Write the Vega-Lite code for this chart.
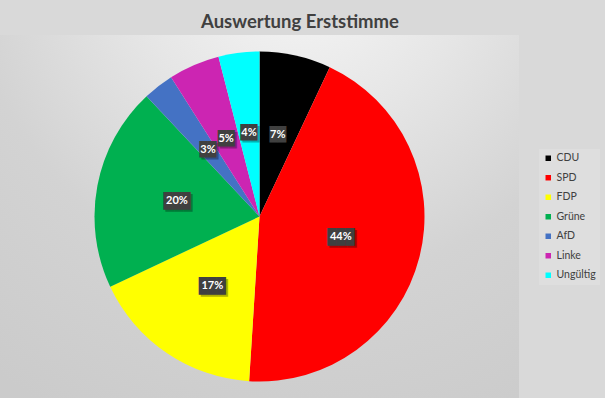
{
  "$schema": "https://vega.github.io/schema/vega-lite/v6.json",
  "width": 605,
  "height": 398,
  "autosize": {"type": "fit", "contains": "padding"},
  "padding": {"top": 12, "left": 0, "right": 5, "bottom": 0},
  "background": "#d9d9d9",
  "title": {
    "text": "Auswertung Erststimme",
    "font": "Lato",
    "fontSize": 18.5,
    "fontWeight": "bold",
    "color": "#404040",
    "offset": 4,
    "anchor": "middle",
    "frame": "bounds"
  },
  "view": {
    "stroke": null,
    "fill": {
      "gradient": "radial",
      "x1": 0.577, "y1": -0.011, "r1": 0,
      "x2": 0.577, "y2": -0.011, "r2": 1,
      "stops": [
        {"offset": 0, "color": "#f8f8f8"},
        {"offset": 0.33, "color": "#e6e6e6"},
        {"offset": 0.64, "color": "#d3d3d3"},
        {"offset": 1, "color": "#cbcbcb"}
      ]
    }
  },
  "data": {
    "values": [
      {"party": "CDU", "share": 0.07},
      {"party": "SPD", "share": 0.44},
      {"party": "FDP", "share": 0.17},
      {"party": "Grüne", "share": 0.20},
      {"party": "AfD", "share": 0.03},
      {"party": "Linke", "share": 0.05},
      {"party": "Ungültig", "share": 0.04}
    ]
  },
  "transform": [{"window": [{"op": "row_number", "as": "idx"}]}],
  "encoding": {
    "theta": {"field": "share", "type": "quantitative", "stack": true},
    "order": {"field": "idx", "type": "quantitative"}
  },
  "layer": [
    {
      "mark": {"type": "arc", "outerRadius": 165},
      "encoding": {
        "color": {
          "field": "party",
          "type": "nominal",
          "sort": null,
          "scale": {
            "domain": ["CDU", "SPD", "FDP", "Grüne", "AfD", "Linke", "Ungültig"],
            "range": ["#000000", "#ff0000", "#ffff00", "#00b050", "#4472c4", "#cc25b2", "#00ffff"]
          },
          "legend": {
            "title": null,
            "orient": "right",
            "offset": 20,
            "padding": 4,
            "fillColor": "#dedede",
            "symbolType": "square",
            "symbolSize": 30,
            "symbolStrokeWidth": 0,
            "labelFont": "Lato",
            "labelFontSize": 10.5,
            "labelColor": "#404040",
            "labelOffset": 3,
            "rowPadding": 8.5
          }
        }
      }
    },
    {
      "mark": {"type": "text", "radius": 84, "font": "DejaVu Sans Mono", "baseline": "middle", "align": "center", "dx": 2, "dy": 2, "opacity": 0.3},
      "encoding": {
        "detail": {"field": "party", "type": "nominal"},
        "color": {"value": "#000000"},
        "size": {"condition": {"test": "datum.share >= 0.095", "value": 15}, "value": 14},
        "text": {"condition": {"test": "datum.share >= 0.095", "value": "███"}, "value": "██"}
      }
    },
    {
      "mark": {"type": "text", "radius": 84, "font": "DejaVu Sans Mono", "baseline": "middle", "align": "center"},
      "encoding": {
        "detail": {"field": "party", "type": "nominal"},
        "color": {"value": "#404040"},
        "size": {"condition": {"test": "datum.share >= 0.095", "value": 15}, "value": 14},
        "text": {"condition": {"test": "datum.share >= 0.095", "value": "███"}, "value": "██"}
      }
    },
    {
      "mark": {"type": "text", "radius": 84, "font": "Lato", "fontSize": 11, "fontWeight": "bold", "baseline": "middle", "align": "center"},
      "encoding": {
        "detail": {"field": "party", "type": "nominal"},
        "color": {"value": "#ffffff"},
        "text": {"field": "share", "type": "quantitative", "format": ".0%"}
      }
    }
  ],
  "config": {
    "legend": {"layout": {"right": {"anchor": "middle"}}}
  }
}
